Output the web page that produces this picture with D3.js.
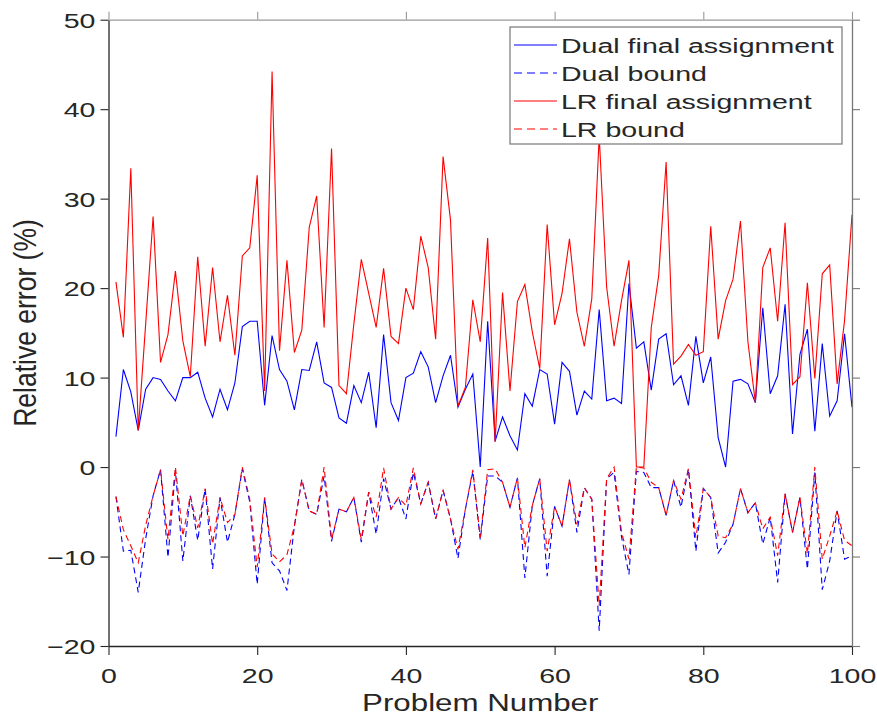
<!DOCTYPE html>
<html>
<head>
<meta charset="utf-8">
<script src="https://cdn.jsdelivr.net/npm/d3@7"></script>
<style>
  body { margin: 0; background: #fff; }
  svg text { font-family: "Liberation Sans", Arial, sans-serif; fill: #262626; }
</style>
</head>
<body>
<svg id="chart" width="877" height="717"></svg>
<script>
// problem index 1..100
var problems = d3.range(1, 101);

var dualFinal = [3.4,10.9,8.4,4.1,8.7,10.0,9.8,8.5,7.4,10.0,
    10.0,10.6,7.7,5.6,8.7,6.4,9.4,15.7,16.3,16.3,
    6.9,14.7,10.9,9.6,6.4,10.9,10.8,14.0,9.4,8.9,
    5.5,4.9,9.1,7.2,10.6,4.4,14.8,7.2,5.2,10.0,
    10.5,12.9,11.2,7.2,10.2,12.5,6.7,8.7,10.4,0.0,
    16.3,2.9,5.6,3.5,1.9,8.2,6.8,10.9,10.4,4.8,
    11.7,10.7,5.8,8.5,7.6,17.6,7.4,7.7,7.1,20.5,
    13.3,14.0,8.6,14.3,14.9,9.2,10.2,6.9,14.6,9.4,
    12.3,3.3,0.0,9.6,9.8,9.3,7.2,17.8,8.2,10.2,
    18.2,3.7,12.6,15.4,4.0,13.8,5.7,7.4,14.9,6.7];

var dualBound = [-3.3,-9.4,-9.3,-14.0,-8.0,-3.2,-0.3,-10.1,-0.4,-10.5,
    -3.2,-8.2,-2.4,-11.4,-3.4,-8.4,-5.3,-0.2,-3.9,-13.1,
    -3.4,-10.7,-11.6,-13.8,-6.6,-1.4,-4.9,-5.3,-1.0,-8.3,
    -4.7,-5.0,-3.4,-8.4,-2.8,-7.5,-1.3,-4.7,-3.4,-5.8,
    -0.6,-4.1,-1.7,-5.8,-2.6,-5.8,-10.2,-4.7,-0.5,-8.1,
    -1.0,-1.0,-1.7,-4.5,-1.2,-12.4,-4.3,-1.3,-12.2,-4.4,
    -6.6,-1.4,-7.3,-2.3,-3.6,-18.3,-1.3,-0.6,-7.8,-12.0,
    -0.5,-0.6,-2.3,-2.3,-5.4,-1.5,-4.5,-0.2,-9.4,-2.4,
    -3.4,-9.6,-8.4,-6.4,-2.4,-5.1,-4.0,-8.6,-5.6,-12.9,
    -3.0,-7.3,-3.4,-11.4,-0.6,-13.7,-10.5,-4.9,-10.3,-9.9];

var lrFinal = [20.7,14.5,33.4,4.1,16.0,28.0,11.7,14.8,21.9,14.1,
    10.1,23.5,13.5,22.3,14.0,19.2,12.5,23.6,24.5,32.6,
    8.5,44.2,13.0,23.1,12.8,15.3,26.8,30.3,15.6,35.6,
    9.1,8.2,16.0,23.2,19.4,15.6,22.2,14.6,13.8,20.0,
    17.6,25.8,22.3,14.3,34.7,27.6,6.8,8.9,18.7,14.0,
    25.6,2.8,19.5,8.5,18.5,20.4,15.1,11.0,27.1,15.9,
    19.4,25.5,17.3,13.5,18.8,37.0,20.1,13.5,18.6,23.1,
    0.0,0.0,15.6,21.4,34.1,11.5,12.4,13.7,12.5,12.9,
    26.9,14.3,18.6,21.0,27.5,14.0,7.2,22.3,24.5,16.3,
    27.3,9.2,10.1,20.6,9.9,21.6,22.6,9.3,16.4,28.2];

var lrBound = [-3.3,-7.0,-8.8,-10.7,-6.5,-3.2,-0.3,-8.1,0.0,-7.7,
    -3.2,-6.8,-2.4,-8.6,-3.4,-6.2,-5.3,0.0,-3.6,-11.2,
    -3.4,-9.7,-10.6,-9.8,-6.6,-1.4,-4.9,-5.3,0.0,-8.1,
    -4.7,-5.0,-3.4,-8.1,-2.8,-5.6,-0.1,-4.7,-3.4,-4.3,
    -0.1,-4.1,-1.7,-5.8,-2.6,-5.8,-9.2,-4.7,-0.3,-7.9,
    -0.3,-0.2,-1.7,-4.5,-1.2,-9.0,-4.3,-1.3,-9.4,-4.4,
    -6.6,-1.4,-6.4,-2.3,-3.6,-15.5,-1.3,0.0,-7.3,-10.3,
    0.0,-0.1,-1.7,-2.3,-5.4,-1.5,-3.6,-0.2,-7.9,-2.4,
    -3.4,-7.7,-7.9,-6.4,-2.4,-5.1,-4.0,-6.9,-5.6,-9.9,
    -3.0,-7.3,-3.4,-9.7,0.0,-10.3,-7.7,-4.9,-8.2,-8.8];

var xTicks = [0, 20, 40, 60, 80, 100];
var yTicks = [-20, -10, 0, 10, 20, 30, 40, 50];

var series = [
    {name: "Dual final assignment", values: dualFinal, color: "#0000ff", dash: null},
    {name: "Dual bound", values: dualBound, color: "#0000ff", dash: "6,4"},
    {name: "LR final assignment", values: lrFinal, color: "#ff0000", dash: null},
    {name: "LR bound", values: lrBound, color: "#ff0000", dash: "6,4"}
];

// note: "top" is taken by window.top, so plot edges get their own names
var plotLeft = 108.5, plotRight = 852, plotTop = 19.7, plotBottom = 646;
var stretch = 1.36; // the picture's text is wider than tall

var svg = d3.select("#chart");

var x = d3.scaleLinear().domain([0, 100]).range([plotLeft, plotRight]);
var y = d3.scaleLinear().domain([-20, 50]).range([plotBottom, plotTop]);

// lines first, axes over them
var line = d3.line()
    .x(function (d, i) { return x(problems[i]); })
    .y(function (d) { return y(d); });

svg.append("g").selectAll("path")
    .data(series)
    .enter().append("path")
    .attr("d", function (s) { return line(s.values); })
    .attr("fill", "none")
    .attr("stroke", function (s) { return s.color; })
    .attr("stroke-width", 1.1)
    .attr("stroke-dasharray", function (s) { return s.dash; });

// box axes, ticks outward
var gLeft = svg.append("g")
    .attr("transform", "translate(" + plotLeft + ",0)")
    .call(d3.axisLeft(y).tickValues(yTicks).tickSize(8).tickSizeOuter(0));
var gBottom = svg.append("g")
    .attr("transform", "translate(0," + plotBottom + ")")
    .call(d3.axisBottom(x).tickValues(xTicks).tickSize(9).tickSizeOuter(0));
var gRight = svg.append("g")
    .attr("transform", "translate(" + plotRight + ",0)")
    .call(d3.axisRight(y).tickValues(yTicks).tickSize(8).tickSizeOuter(0).tickFormat(""));
var gTop = svg.append("g")
    .attr("transform", "translate(0," + plotTop + ")")
    .call(d3.axisTop(x).tickValues(xTicks).tickSize(8).tickSizeOuter(0).tickFormat(""));

[gLeft, gBottom, gRight, gTop].forEach(function (g) {
    g.selectAll(".domain").attr("stroke", "#262626").attr("stroke-width", 1.3);
    g.selectAll(".tick line").attr("stroke", "#262626").attr("stroke-width", 1.1);
});
gRight.selectAll(".domain, .tick line").attr("stroke", "#777");
gTop.selectAll(".domain, .tick line").attr("stroke", "#999");

gLeft.selectAll(".tick text")
    .attr("x", null).attr("dy", "0.36em")
    .attr("font-size", 21)
    .attr("transform", "translate(-13,0) scale(" + stretch + ",1)");
gBottom.selectAll(".tick text")
    .attr("y", 37).attr("dy", null)
    .attr("font-size", 21)
    .attr("transform", "scale(" + stretch + ",1)");

// axis titles
svg.append("text")
    .attr("transform", "translate(" + ((plotLeft + plotRight) / 2) + ",711) scale(" + stretch + ",1)")
    .attr("text-anchor", "middle")
    .attr("font-size", 23)
    .text("Problem Number");

svg.append("text")
    .attr("transform", "translate(36,323) scale(1.2,1) rotate(-90)")
    .attr("text-anchor", "middle")
    .attr("font-size", 26.5)
    .text("Relative error (%)");

// legend
var legend = svg.append("g").attr("transform", "translate(510,27)");
legend.append("rect")
    .attr("width", 332).attr("height", 117)
    .attr("fill", "#fff").attr("stroke", "#777").attr("stroke-width", 1.2);

var rows = legend.selectAll(".row")
    .data(series)
    .enter().append("g")
    .attr("class", "row")
    .attr("transform", function (d, i) { return "translate(0," + (18 + i * 28) + ")"; });

rows.append("line")
    .attr("x1", 4).attr("x2", 47)
    .attr("stroke", function (d) { return d.color; })
    .attr("stroke-width", 1.1)
    .attr("stroke-dasharray", function (d) { return d.dash ? "8,5" : null; });

rows.append("text")
    .attr("transform", "translate(51,0) scale(" + stretch + ",1)")
    .attr("dy", "0.36em")
    .attr("font-size", 21)
    .attr("fill", "#000")
    .text(function (d) { return d.name; });
</script>
</body>
</html>
